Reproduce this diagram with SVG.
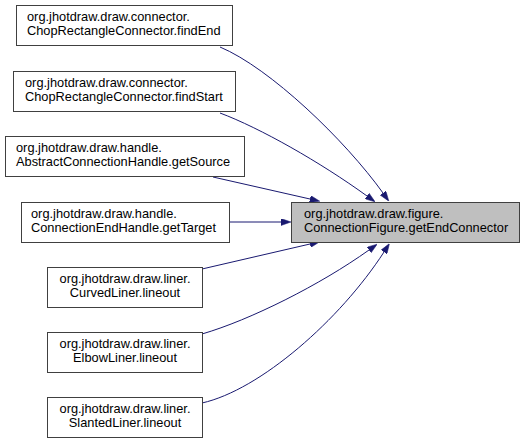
<svg xmlns="http://www.w3.org/2000/svg" width="524" height="444" viewBox="0 0 524 444">
<style>
.node rect{fill:#ffffff;stroke:#404040;stroke-width:1}
.node.focus rect{fill:#bfbfbf}
text{font-family:"Liberation Sans",Arial,sans-serif;font-size:12.8px;fill:#000000}
.mid{text-anchor:middle}
.edges path{fill:none;stroke:#191970;stroke-width:1}
</style>
<defs>
<marker id="arr" viewBox="0 0 10 7" refX="0" refY="3.5" markerWidth="10" markerHeight="7" markerUnits="userSpaceOnUse" orient="auto">
<path d="M0,0 L10,3.5 L0,7 z" fill="#191970" stroke="#191970" stroke-width="0.5"/>
</marker>
</defs>
<rect width="524" height="444" fill="#ffffff"/>
<g id="edges" class="edges">
<path d="M220,47 C270,68 345,140 383,193" marker-end="url(#arr)"/>
<path d="M220,113 C260,128 320,162 367,196" marker-end="url(#arr)"/>
<path d="M213,177 L310,199" marker-end="url(#arr)"/>
<path d="M229,222 L281,222" marker-end="url(#arr)"/>
<path d="M202,269 L310,244" marker-end="url(#arr)"/>
<path d="M202,334 C250,320 320,285 369,250" marker-end="url(#arr)"/>
<path d="M202,403 C260,390 340,320 384,252" marker-end="url(#arr)"/>
</g>
<g id="node-target" class="node focus">
<rect x="291.5" y="202.5" width="228" height="40"/>
<text x="304" y="218">org.jhotdraw.draw.figure.</text>
<text x="304" y="232">ConnectionFigure.getEndConnector</text>
</g>
<g id="node-findEnd" class="node">
<rect x="16.5" y="5.5" width="216" height="40"/>
<text x="27" y="21">org.jhotdraw.draw.connector.</text>
<text x="27" y="35">ChopRectangleConnector.findEnd</text>
</g>
<g id="node-findStart" class="node">
<rect x="13.5" y="71.5" width="222" height="40"/>
<text x="25" y="87">org.jhotdraw.draw.connector.</text>
<text x="25" y="101">ChopRectangleConnector.findStart</text>
</g>
<g id="node-getSource" class="node">
<rect x="5.5" y="136.5" width="239" height="40"/>
<text x="16" y="152">org.jhotdraw.draw.handle.</text>
<text x="16" y="166">AbstractConnectionHandle.getSource</text>
</g>
<g id="node-getTarget" class="node">
<rect x="21.5" y="202.5" width="208" height="40"/>
<text x="31" y="218">org.jhotdraw.draw.handle.</text>
<text x="31" y="232">ConnectionEndHandle.getTarget</text>
</g>
<g id="node-curved" class="node">
<rect x="47.5" y="267.5" width="155" height="40"/>
<text class="mid" x="125" y="283">org.jhotdraw.draw.liner.</text>
<text class="mid" x="125" y="297">CurvedLiner.lineout</text>
</g>
<g id="node-elbow" class="node">
<rect x="47.5" y="332.5" width="155" height="40"/>
<text class="mid" x="125" y="348">org.jhotdraw.draw.liner.</text>
<text class="mid" x="125" y="362">ElbowLiner.lineout</text>
</g>
<g id="node-slanted" class="node">
<rect x="47.5" y="397.5" width="155" height="40"/>
<text class="mid" x="125" y="413">org.jhotdraw.draw.liner.</text>
<text class="mid" x="125" y="427">SlantedLiner.lineout</text>
</g>
</svg>
